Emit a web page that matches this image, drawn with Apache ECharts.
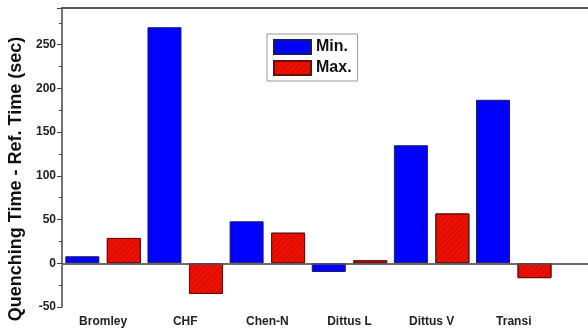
<!DOCTYPE html>
<html><head><meta charset="utf-8">
<script src="https://cdn.jsdelivr.net/npm/echarts@6/dist/echarts.min.js"></script>
<style>html,body{margin:0;padding:0;background:#fff}#c{width:588px;height:332px}</style>
</head><body><div id="c"></div>
<script>
const categories = ['Bromley', 'CHF', 'Chen-N', 'Dittus L', 'Dittus V', 'Transi'];
const minValues = [8, 270, 48, -10, 135, 187];
const maxValues = [29, -35, 35, 3.5, 57, -17];
const yTicks = [-50, 0, 50, 100, 150, 200, 250];
const yTitle = 'Quenching Time - Ref. Time (sec)';

const chart = echarts.init(document.getElementById('c'));
const font = 'Liberation Sans, Arial, sans-serif';
chart.setOption({
  animation: false,
  grid: { left: 62, top: 8, height: 299, width: 575, containLabel: false, outerBoundsMode: 'none' },
  graphic: [{
    type: 'text', x: 16, y: 179, rotation: Math.PI / 2,
    style: { text: yTitle, font: 'bold 18px ' + font, fill: '#111', align: 'center', verticalAlign: 'middle' }
  }],
  legend: {
    left: 267, top: 34, orient: 'vertical', itemWidth: 37, itemHeight: 14, itemGap: 5, icon: 'rect',
    padding: [5, 6, 5, 6], borderColor: '#999', borderWidth: 1, backgroundColor: '#fff',
    textStyle: { fontFamily: font, fontWeight: 'bold', fontSize: 16, color: '#111' },
    data: ['Min.', 'Max.']
  },
  xAxis: [{
    type: 'category', data: categories, max: 6,
    axisLine: { lineStyle: { color: '#bbb', width: 2 } },
    axisTick: { show: false },
    axisLabel: { fontFamily: font, fontWeight: 'bold', fontSize: 12, color: '#222', margin: 9 }
  }, {
    type: 'category', data: categories, max: 6, position: 'top',
    axisLine: { lineStyle: { color: '#555', width: 2 } },
    axisTick: { show: false }, axisLabel: { show: false }
  }],
  yAxis: {
    type: 'value', min: -50, max: 292, interval: 50,
    axisLine: { show: true, lineStyle: { color: '#444', width: 1.5 } },
    axisTick: { show: true, length: 5, lineStyle: { color: '#444' } },
    minorTick: { show: true, splitNumber: 2, length: 3, lineStyle: { color: '#444' } },
    splitLine: { show: false },
    axisLabel: { fontFamily: font, fontWeight: 'bold', fontSize: 12, color: '#222', margin: 6, showMaxLabel: false,
      formatter: v => yTicks.includes(v) ? String(v) : '' }
  },
  series: [{
    name: 'Min.', type: 'bar', data: minValues, barWidth: 34, barGap: '22%',
    itemStyle: { color: '#0000ff', borderColor: '#1a1a66', borderWidth: 1 },
    markLine: { silent: true, symbol: 'none', label: { show: false },
      lineStyle: { color: '#555', width: 1.5, type: 'solid' }, data: [{ yAxis: 0 }] }
  }, {
    name: 'Max.', type: 'bar', data: maxValues, barWidth: 34,
    itemStyle: { color: '#f01000', borderColor: '#661010', borderWidth: 1,
      decal: { symbol: 'rect', symbolSize: 1, dashArrayX: [1, 0], dashArrayY: [1, 3], rotation: -Math.PI / 4, color: 'rgba(120,0,0,0.3)' } }
  }]
});
</script></body></html>
